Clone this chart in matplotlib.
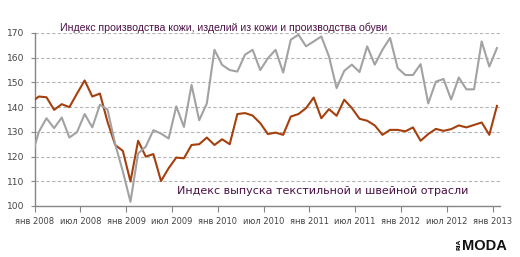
import numpy as np
import matplotlib
matplotlib.use("Agg")
import matplotlib.pyplot as plt

# Monthly indices (first point partially hidden behind the axis), Jan 2008 .. Feb 2013
leather = [119.5, 130, 135.5, 131.5, 135.8, 127.7, 129.9, 137.2, 131.8, 141,
           139, 125, 114, 101.7, 121.3, 124, 130.7, 129.3, 127.3, 140.3,
           132, 149, 134.7, 141.5, 163.2, 157.1, 155, 154.4, 161.2, 163.2,
           155, 159.8, 163.2, 154, 167.3, 169.3, 164.6, 166.6, 168.6, 160.5,
           147.7, 154.7, 157.2, 154.2, 164.6, 157.2, 163.2, 168, 155.8, 153,
           153, 157.4, 141.5, 150.3, 151.4, 143.1, 152, 147.2, 147.2, 166.6,
           156.4, 163.9]
textile = [142, 144.3, 144, 138.9, 141.2, 140, 145.5, 150.8, 144.3, 145.5,
           134, 124.7, 122.3, 109.9, 126.4, 120, 121, 110.1, 115.3, 119.6,
           119.3, 124.7, 125, 127.7, 124.7, 127, 125, 137.2, 137.6, 136.6,
           133.5, 129.1, 129.7, 128.8, 136.2, 137.2, 139.6, 143.9, 135.5, 139.2,
           136.5, 143, 139.6, 135.3, 134.5, 132.6, 128.8, 130.8, 130.8, 130.2,
           131.8, 126.4, 129.1, 131.2, 130.4, 131.1, 132.6, 131.8, 132.8, 133.8,
           128.8, 140.5]
tick_labels = ["янв 2008", "июл 2008", "янв 2009", "июл 2009", "янв 2010",
               "июл 2010", "янв 2011", "июл 2011", "янв 2012", "июл 2012",
               "янв 2013"]
y_ticks = [100, 110, 120, 130, 140, 150, 160, 170]
title_leather = "Индекс производства кожи, изделий из кожи и производства обуви"
title_textile = "Индекс выпуска текстильной и швейной отрасли"

W, H = 520, 257
fig = plt.figure(figsize=(W / 100, H / 100), dpi=100)
ax = fig.add_axes([34.5 / W, 1 - 206 / H, (500 - 34.5) / W, (206 - 33) / H])

x = np.arange(len(leather))
ax.plot(x, textile, color="#A5400E", lw=1.5, solid_joinstyle="round", zorder=3)
ax.plot(x, leather, color="#A2A2A2", lw=1.5, solid_joinstyle="round", zorder=4)

ax.set_ylim(100, 170)
ax.set_xlim(0.43, 61.4)
ax.set_yticks(y_ticks)
ax.set_xticks(0.43 + 6 * np.arange(len(tick_labels)))
ax.set_xticklabels(tick_labels)

ax.yaxis.grid(True, linestyle=(0, (3, 2)), color="#B5B5B5", lw=0.8)
ax.set_axisbelow(True)
for s in ("top", "right"):
    ax.spines[s].set_visible(False)
for s in ("left", "bottom"):
    ax.spines[s].set_color("#868686")
    ax.spines[s].set_linewidth(1.0)

ax.tick_params(axis="y", direction="out", length=3, width=0.8, color="#868686",
               pad=4, labelsize=6.6, labelcolor="#444444")
ax.tick_params(axis="x", direction="out", length=4, width=0.8, color="#868686",
               pad=4, labelsize=6.0, labelcolor="#444444")

fig.text(60 / W, 1 - 31 / H, title_leather, ha="left", va="baseline",
         fontsize=7.6, color="#4A1046", family="Liberation Sans")
fig.text(177 / W, 1 - 194 / H, title_textile, ha="left", va="baseline",
         fontsize=8.0, color="#4A1046", family="DejaVu Sans")

# logo
fig.text(462 / W, 1 - 250 / H, "MODA", ha="left", va="baseline",
         fontsize=10.5, fontweight="bold", color="#111111",
         family="Liberation Sans")
fig.text(459 / W, 1 - 244 / H, "RIA", ha="center", va="center", rotation=90,
         fontsize=4.2, fontweight="bold", color="#111111")

fig.savefig("out.png", dpi=100)
